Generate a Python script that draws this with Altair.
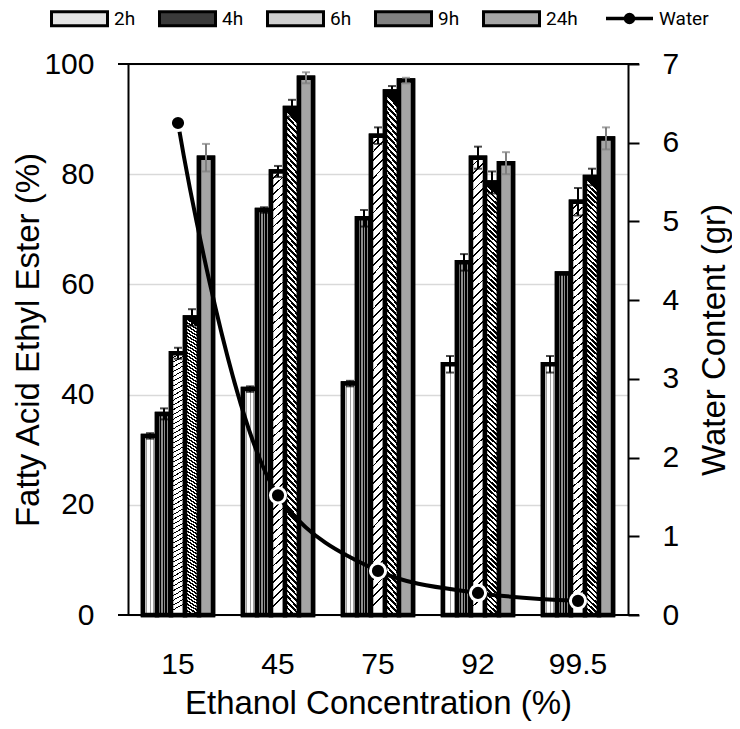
import altair as alt
import pandas as pd

conc = ["15", "45", "75", "92", "99.5"]
series = ["2h", "4h", "6h", "9h", "24h"]

v2h = [32.5, 41.0, 42.0, 45.5, 45.5]
v4h = [36.5, 73.5, 72.0, 64.0, 62.0]
v6h = [47.5, 80.5, 87.0, 83.0, 75.0]
v9h = [54.0, 92.0, 95.0, 78.5, 79.5]
v24h = [83.0, 97.5, 97.0, 82.0, 86.5]

e2h = [0.5, 0.5, 0.5, 1.5, 1.5]
e4h = [1.0, 0.5, 1.5, 1.5, 0.0]
e6h = [1.0, 1.0, 1.5, 2.0, 2.5]
e9h = [1.5, 1.5, 1.0, 2.0, 1.5]
e24h = [2.5, 1.0, 0.5, 2.0, 2.0]

water = [6.25, 1.52, 0.56, 0.28, 0.18]

legend_fills = ["#e4e4e4", "#3a3a3a", "#cfcfcf", "#808080", "#a6a6a6"]

vals = [v2h, v4h, v6h, v9h, v24h]
errs = [e2h, e4h, e6h, e9h, e24h]
rows = []
for s, vv, ee in zip(series, vals, errs):
    for c, v, e in zip(conc, vv, ee):
        rows.append({"conc": c, "series": s, "value": v, "lo": v - e, "hi": v + e})
df = pd.DataFrame(rows)
wdf = pd.DataFrame({"conc": conc, "water": water, "label": ["Water"] * len(conc)})


def stripes(n, c_on, c_off, frac_on, x1=0.0, y1=0.0, x2=0.0, y2=1.0):
    stops = []
    for i in range(n):
        a = i / n
        b = (i + frac_on) / n
        stops += [{"offset": a, "color": c_on}, {"offset": b, "color": c_on},
                  {"offset": b, "color": c_off}, {"offset": (i + 1) / n, "color": c_off}]
    return {"gradient": "linear", "x1": x1, "y1": y1, "x2": x2, "y2": y2, "stops": stops}


pattern = {
    "2h": stripes(4, "#a0a0a0", "#ffffff", 0.25, x2=1.0, y2=0.0),
    "4h": stripes(5, "#000000", "#8c8c8c", 0.5, x2=1.0, y2=0.0),
    "6h": stripes(55, "#000000", "#ffffff", 0.22, x1=0.0, x2=0.03),
    "9h": stripes(90, "#000000", "#ffffff", 0.5, x1=0.03, x2=0.0),
    "24h": "#a6a6a6",
}

FONT = "Liberation Sans"
LFONT = "Roboto"
LTITLE = "Fatty Acid Ethyl Ester (%)"

xenc = alt.X(
    "conc:N", sort=conc,
    scale=alt.Scale(paddingInner=0.3, paddingOuter=0.15),
    axis=alt.Axis(title="Ethanol Concentration (%)", labelAngle=0, ticks=False,
                  domain=False, grid=False, labelPadding=34, titlePadding=8),
)
xoff = alt.XOffset("series:N", sort=series,
                   scale=alt.Scale(domain=series, paddingInner=0, paddingOuter=0))
yaxis = alt.Axis(title=LTITLE, values=[0, 20, 40, 60, 80, 100], ticks=False,
                 domain=True, domainColor="black", domainWidth=2,
                 grid=True, gridColor="#d9d9d9", gridWidth=1.5,
                 labelPadding=34, titlePadding=-2)
yscale = alt.Scale(domain=[0, 100], nice=False)

rect_path = "M-1,-0.25H1V0.25H-1Z"

bars_legend = alt.Chart(df).mark_bar(stroke="black", strokeWidth=4.5).encode(
    x=xenc,
    xOffset=xoff,
    y=alt.Y("value:Q", scale=yscale, axis=yaxis),
    fill=alt.Fill("series:N", sort=series,
                  scale=alt.Scale(domain=series, range=legend_fills),
                  legend=alt.Legend(title=None, orient="none", direction="horizontal",
                                    legendX=-78, legendY=-75,
                                    symbolType=rect_path, symbolSize=3136,
                                    symbolStrokeColor="black", symbolStrokeWidth=3,
                                    labelFont=LFONT, labelFontSize=19,
                                    labelOffset=5, columnPadding=17)),
)

fill_cond = {
    "condition": [{"test": f"datum.series === '{s}'", "value": pattern[s]} for s in series[:-1]],
    "value": pattern["24h"],
}
bars_pat = alt.Chart(df).mark_bar(stroke="black", strokeWidth=4.5).encode(
    x=xenc,
    xOffset=xoff,
    y=alt.Y("value:Q", scale=yscale, axis=yaxis),
    fill=fill_cond,
)

errcolor = alt.condition(alt.datum.series == "24h", alt.value("#7f7f7f"), alt.value("black"))

err = alt.Chart(df).mark_rule(strokeWidth=2).encode(
    x=xenc, xOffset=xoff,
    y=alt.Y("lo:Q", scale=yscale, axis=yaxis), y2="hi:Q",
    color=errcolor,
)
cap_hi = alt.Chart(df).mark_tick(thickness=2, size=8).encode(
    x=xenc, xOffset=xoff,
    y=alt.Y("hi:Q", scale=yscale, axis=yaxis),
    color=errcolor,
)
cap_lo = alt.Chart(df).mark_tick(thickness=2, size=8).encode(
    x=xenc, xOffset=xoff,
    y=alt.Y("lo:Q", scale=yscale, axis=yaxis),
    color=errcolor,
)

left = alt.layer(bars_legend, bars_pat, err, cap_hi, cap_lo)

ryaxis = alt.Axis(title="Water Content (gr)", orient="right", values=list(range(0, 8)),
                  ticks=True, tickSize=11, tickWidth=2, tickColor="black",
                  domain=True, domainColor="black", domainWidth=2, grid=False,
                  labelPadding=23, titlePadding=20, titleAngle=270, titleBaseline="top")
ryscale = alt.Scale(domain=[0, 7], nice=False)

water_path = "M-1,0H-0.2M0.2,0H1M0.17,0A0.17,0.17 0 1,1 -0.17,0A0.17,0.17 0 1,1 0.17,0Z"

line = alt.Chart(wdf).mark_line(strokeWidth=4, interpolate="catmull-rom").encode(
    x=xenc,
    y=alt.Y("water:Q", scale=ryscale, axis=ryaxis),
    stroke=alt.Stroke("label:N", scale=alt.Scale(range=["black"]),
                      legend=alt.Legend(title=None, orient="none", legendX=476, legendY=-71,
                                        symbolType=water_path, symbolSize=2209,
                                        symbolFillColor="black", symbolStrokeColor="black",
                                        symbolStrokeWidth=3.5,
                                        labelFont=LFONT, labelFontSize=19, labelOffset=4)),
)
pts = alt.Chart(wdf).mark_point(filled=True, fill="black", stroke="white",
                                strokeWidth=3, size=230, opacity=1).encode(
    x=xenc,
    y=alt.Y("water:Q", scale=ryscale, axis=ryaxis),
)
right = alt.layer(line, pts)

one = pd.DataFrame({"k": [0]})
frame_top = alt.Chart(one).mark_rule(color="black", strokeWidth=2).encode(
    x=alt.value(-10), x2=alt.value(511), y=alt.value(0))
frame_bot = alt.Chart(one).mark_rule(color="black", strokeWidth=2).encode(
    x=alt.value(-10), x2=alt.value(511), y=alt.value(551))

chart = alt.layer(left, right, frame_top, frame_bot).resolve_scale(
    y="independent"
).properties(
    width=500, height=551,
    autosize=alt.AutoSizeParams(type="none"),
    padding={"left": 120, "top": 56, "right": 104, "bottom": 106},
).configure_view(stroke=None).configure_axis(
    labelFont=FONT, labelFontSize=30, labelColor="black",
    titleFont=FONT, titleFontSize=33, titleFontWeight="normal", titleColor="black",
).configure_legend(labelColor="black")

chart.save("out.html", embed_options={"renderer": "svg", "actions": False})
